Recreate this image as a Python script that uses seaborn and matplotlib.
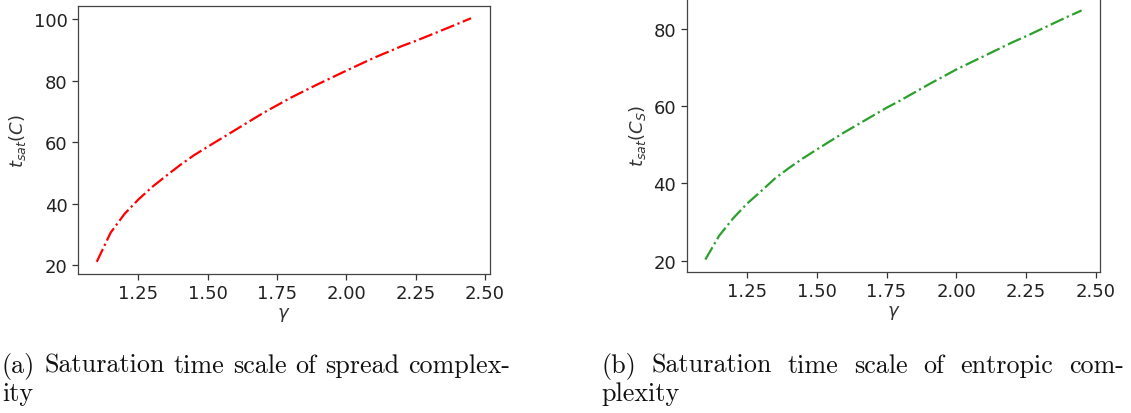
import matplotlib
matplotlib.use("Agg")
import matplotlib.pyplot as plt
import pandas as pd
import seaborn as sns

# gamma values
gamma = [1.10, 1.15, 1.20, 1.25, 1.30, 1.35, 1.40, 1.45, 1.50, 1.60, 1.70,
         1.75, 1.80, 1.90, 2.00, 2.10, 2.20, 2.25, 2.30, 2.40, 2.45]
# saturation time of spread complexity
t_sat_spread = [21.0, 30.5, 36.6, 41.3, 45.4, 49.0, 52.5, 55.7, 58.5, 64.0, 69.5,
                72.0, 74.5, 79.0, 83.3, 87.5, 91.3, 93.0, 94.8, 98.5, 100.4]
# saturation time of entropic complexity
t_sat_entropic = [20.3, 26.5, 31.0, 34.8, 38.0, 41.3, 44.0, 46.5, 48.8, 53.3, 57.5,
                  59.6, 61.5, 65.6, 69.5, 73.0, 76.5, 78.1, 79.8, 83.2, 84.8]

captions = [
    ("(a) Saturation time scale of spread complex-", "ity"),
    ("(b) Saturation time scale of entropic com-", "plexity"),
]

sns.set_style("ticks")
plt.rcParams["font.family"] = ["DejaVu Sans"]

df = pd.DataFrame({"gamma": gamma, "spread": t_sat_spread, "entropic": t_sat_entropic})

W, H = 1131, 414
fig = plt.figure(figsize=(W / 100, H / 100), dpi=100)
ax1 = fig.add_axes([0.069, 0.3357, 0.364, 0.6473])
ax2 = fig.add_axes([0.607, 0.3406, 0.366, 0.6618])

panels = [
    (ax1, "spread", "red", r"$t_{sat}(C)$"),
    (ax2, "entropic", "#2ca02c", r"$t_{sat}(C_S)$"),
]
for ax, col, color, ylabel in panels:
    sns.lineplot(data=df, x="gamma", y=col, ax=ax, color=color,
                 linestyle="-.", linewidth=1.6)
    ax.set_xlabel(r"$\gamma$", fontsize=13, labelpad=2, color="#333333")
    ax.set_ylabel(ylabel, fontsize=13, color="#333333")
    ax.set_xticks([1.25, 1.50, 1.75, 2.00, 2.25, 2.50])
    ax.tick_params(labelsize=13, length=4, width=0.9, colors="#333333",
                   labelcolor="#222222")
    for sp in ax.spines.values():
        sp.set_color("#444444")
        sp.set_linewidth(0.9)

ax1.set_yticks([20, 40, 60, 80, 100])
ax2.set_yticks([20, 40, 60, 80])

# captions: first line justified to the column width, like the LaTeX source
renderer = fig.canvas.get_renderer()
cap_style = dict(family="cmr10", fontsize=18.8, va="baseline", ha="left", color="#111111")
columns = [(2, 510), (601, 1124)]
for (line1, line2), (x0, x1) in zip(captions, columns):
    words = line1.split(" ")
    texts = [fig.text(0, 0, w, **cap_style) for w in words]
    widths = [t.get_window_extent(renderer).width for t in texts]
    gap = (x1 - x0 - sum(widths)) / (len(words) - 1)
    x = x0
    for t, w in zip(texts, widths):
        t.set_position((x / W, 1 - 373 / H))
        x += w + gap
    fig.text(x0 / W, 1 - 401 / H, line2, **cap_style)

fig.savefig("out.png", dpi=100)
